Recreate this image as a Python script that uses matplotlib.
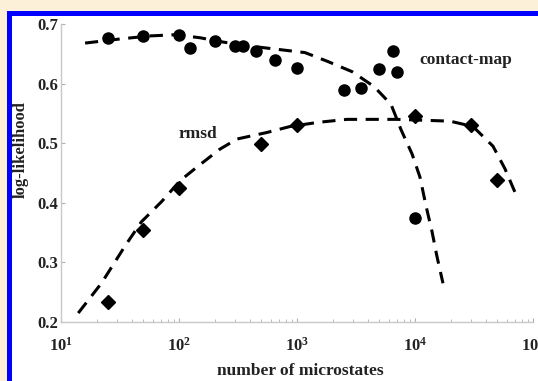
import matplotlib
matplotlib.use("Agg")
import matplotlib.pyplot as plt
from matplotlib.patches import Rectangle
from matplotlib.ticker import FixedLocator, FixedFormatter, LogLocator, NullFormatter

plt.rcParams['font.family'] = ['Liberation Serif', 'DejaVu Serif']
plt.rcParams['mathtext.fontset'] = 'custom'
plt.rcParams['mathtext.rm'] = 'Liberation Serif:bold'
plt.rcParams['mathtext.bf'] = 'Liberation Serif:bold'

# ---- data ----
cm_x = [25, 50, 100, 125, 200, 300, 350, 450, 650, 1000, 2500, 3500, 5000, 6500, 7000, 10000]
cm_y = [0.677, 0.680, 0.682, 0.660, 0.671, 0.663, 0.663, 0.655, 0.640, 0.626,
        0.589, 0.593, 0.625, 0.655, 0.619, 0.374]

rmsd_x = [25, 50, 100, 500, 1000, 10000, 30000, 50000]
rmsd_y = [0.234, 0.354, 0.425, 0.499, 0.531, 0.546, 0.531, 0.438]

cm_fit_x = [16, 32, 57, 92, 150, 231, 398, 717, 1170, 1830, 2930, 4500, 6270,
            7600, 9440, 11020, 12390, 13930, 15350, 17260]
cm_fit_y = [0.668, 0.675, 0.680, 0.682, 0.677, 0.670, 0.663, 0.657, 0.652, 0.637,
            0.620, 0.595, 0.565, 0.523, 0.482, 0.443, 0.395, 0.352, 0.310, 0.265]

rmsd_fit_x = [14, 22, 35, 48, 72, 102, 142, 222, 310, 557, 873, 1510, 2660, 7030,
              19800, 31000, 45800, 57900, 73100]
rmsd_fit_y = [0.215, 0.265, 0.328, 0.368, 0.403, 0.437, 0.460, 0.490, 0.507, 0.518,
              0.528, 0.535, 0.540, 0.540, 0.537, 0.528, 0.495, 0.457, 0.410]

x_ticks = [1e1, 1e2, 1e3, 1e4, 1e5]
x_tick_labels = [r'$\mathbf{10^{1}}$', r'$\mathbf{10^{2}}$', r'$\mathbf{10^{3}}$',
                 r'$\mathbf{10^{4}}$', r'$\mathbf{10^{5}}$']
y_ticks = [0.2, 0.3, 0.4, 0.5, 0.6, 0.7]
y_tick_labels = ['0.2', '0.3', '0.4', '0.5', '0.6', '0.7']

# ---- figure ----
W, H = 538, 381
fig = plt.figure(figsize=(W / 100, H / 100), dpi=100, facecolor='#fcf1d8')
frame = Rectangle((9 / W, -0.01), 1.02, 1 - 13 / H + 0.01,
                  transform=fig.transFigure, facecolor='white',
                  edgecolor='#0000ff', linewidth=3.6, zorder=-10)
fig.add_artist(frame)

ax = fig.add_axes([61 / W, (H - 322) / H, (533 - 61) / W, (322 - 24) / H])
ax.set_facecolor('none')
ax.set_zorder(5)

dash = (4.3, 2.8)
ax.plot(cm_fit_x, cm_fit_y, color='black', lw=2.2, dashes=dash, zorder=2)
ax.plot(rmsd_fit_x, rmsd_fit_y, color='black', lw=2.2, dashes=dash, zorder=2)
ax.plot(cm_x, cm_y, 'o', color='black', ms=8, zorder=3)
ax.plot(rmsd_x, rmsd_y, 'D', color='black', ms=7, zorder=3)

ax.set_xscale('log')
ax.set_xlim(10, 1e5)
ax.set_ylim(0.2, 0.7)

ax.xaxis.set_major_locator(FixedLocator(x_ticks))
ax.xaxis.set_major_formatter(FixedFormatter(x_tick_labels))
ax.xaxis.set_minor_locator(LogLocator(base=10, subs=range(2, 10)))
ax.xaxis.set_minor_formatter(NullFormatter())
ax.yaxis.set_major_locator(FixedLocator(y_ticks))
ax.yaxis.set_major_formatter(FixedFormatter(y_tick_labels))

for s in ['top', 'right']:
    ax.spines[s].set_visible(False)
for s in ['left', 'bottom']:
    ax.spines[s].set_color('#c8c8c8')
    ax.spines[s].set_linewidth(1.0)

ax.tick_params(axis='both', which='major', direction='in', length=3, color='#b0b0b0',
               labelsize=12, labelcolor='#222222')
ax.tick_params(axis='x', which='major', pad=11)
ax.tick_params(axis='y', which='major', pad=2)
ax.tick_params(axis='x', which='minor', direction='in', length=2, color='#b0b0b0')
for lab in ax.get_yticklabels():
    lab.set_fontweight('bold')

ax.text(6800 * 1.6, 0.640, 'contact-map', fontsize=12.5, fontweight='bold',
        color='#222222', ha='left', va='center')
ax.text(145, 0.515, 'rmsd', fontsize=12.5, fontweight='bold',
        color='#222222', ha='center', va='center')

fig.text(300 / W, 1 - 371 / H, 'number of microstates', fontsize=12.5, fontweight='bold',
         color='#222222', ha='center', va='center')
fig.text(21 / W, 1 - 150 / H, 'log-likelihood', fontsize=12, fontweight='bold',
         color='#222222', ha='center', va='center', rotation=90)

fig.savefig('out.png', dpi=100, facecolor=fig.get_facecolor())
